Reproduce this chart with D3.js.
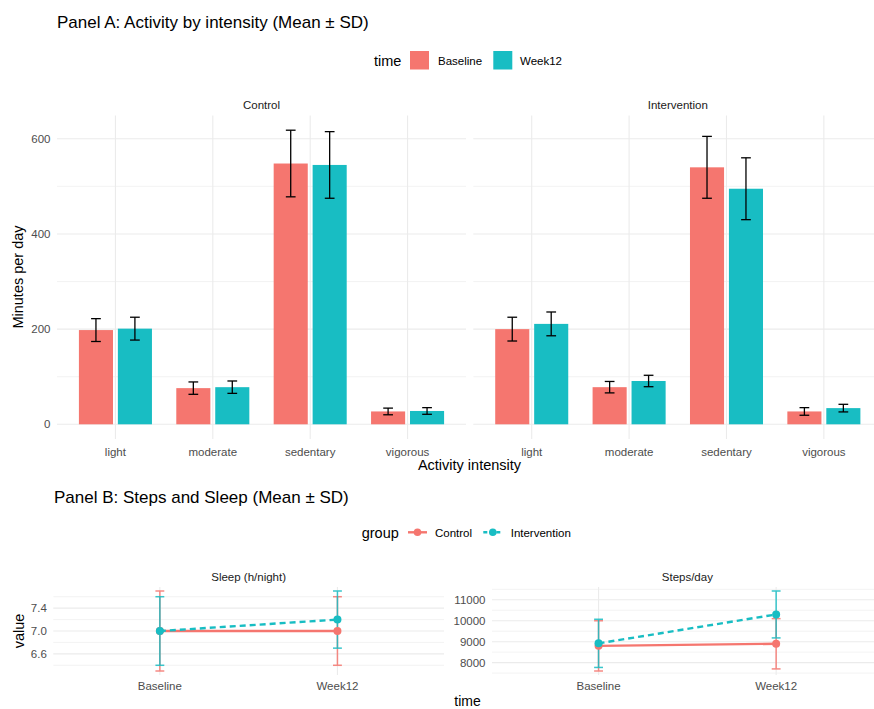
<!DOCTYPE html>
<html><head><meta charset="utf-8">
<script src="https://cdn.jsdelivr.net/npm/d3@7"></script>
<style>body{margin:0;background:#fff}svg{display:block;font-family:"Liberation Sans",Arial,sans-serif}</style>
</head><body><svg id="c" width="874" height="709"></svg>
<script>
// ---------- DATA ----------
const intensities = ["light", "moderate", "sedentary", "vigorous"];
const groups = ["Control", "Intervention"];
const times = ["Baseline", "Week12"];

const controlBaselineMean = [198, 76, 548, 27];
const controlBaselineSD = [24, 13, 70, 7];
const controlWeek12Mean = [201, 78, 545, 28];
const controlWeek12SD = [24, 13, 70, 7];
const interventionBaselineMean = [200, 78, 540, 27];
const interventionBaselineSD = [25, 12, 65, 8];
const interventionWeek12Mean = [211, 91, 495, 34];
const interventionWeek12SD = [25, 12, 65, 8];

const panelATicks = [0, 200, 400, 600];
const panelAMinor = [100, 300, 500];

const sleepControlMean = [7.0, 7.0];
const sleepControlSD = [0.7, 0.6];
const sleepInterventionMean = [7.0, 7.2];
const sleepInterventionSD = [0.6, 0.5];
const sleepTicks = [6.6, 7.0, 7.4];
const sleepMinor = [6.4, 6.8, 7.2, 7.6];

const stepsControlMean = [8800, 8900];
const stepsControlSD = [1200, 1200];
const stepsInterventionMean = [8920, 10300];
const stepsInterventionSD = [1150, 1120];
const stepsTicks = [8000, 9000, 10000, 11000];
const stepsMinor = [7500, 8500, 9500, 10500, 11500];

const RED = "#F5766F", TEAL = "#18BDC3";
const colors = {Baseline: RED, Week12: TEAL, Control: RED, Intervention: TEAL};

// ---------- SETUP ----------
const svg = d3.select("#c");
svg.append("rect").attr("width", 874).attr("height", 709).attr("fill", "#fff");
const GRID = "#EBEBEB", TICKC = "#4D4D4D", STRIPC = "#1A1A1A";

function txt(x, y, s, size, opts = {}) {
  const t = svg.append("text").attr("x", x).attr("y", y).text(s)
    .attr("font-size", size).attr("fill", opts.fill || "#000")
    .attr("text-anchor", opts.anchor || "start");
  if (opts.rotate) t.attr("transform", `rotate(-90,${x},${y})`);
  return t;
}

// ---------- PANEL A ----------
const aTop = 115.5, aBottom = 439;
const aPanels = [{g: "Control", x0: 57, x1: 466}, {g: "Intervention", x0: 473.3, x1: 882.3}];
const barData = {
  Control: {Baseline: [controlBaselineMean, controlBaselineSD], Week12: [controlWeek12Mean, controlWeek12SD]},
  Intervention: {Baseline: [interventionBaselineMean, interventionBaselineSD], Week12: [interventionWeek12Mean, interventionWeek12SD]}
};
let aMax = 0;
groups.forEach(g => times.forEach(t => barData[g][t][0].forEach((m, i) => aMax = Math.max(aMax, m + barData[g][t][1][i]))));
const aPad = aMax * 0.05;
const yA = d3.scaleLinear().domain([-aPad, aMax + aPad]).range([aBottom, aTop]);

aPanels.forEach((p, pi) => {
  const g = svg.append("g");
  const xc = d3.scalePoint().domain(intensities).range([p.x0, p.x1]).padding(0.6);
  const step = xc.step();
  panelAMinor.forEach(v => g.append("line").attr("x1", p.x0).attr("x2", p.x1).attr("y1", yA(v)).attr("y2", yA(v)).attr("stroke", GRID).attr("stroke-width", 0.6));
  panelATicks.forEach(v => g.append("line").attr("x1", p.x0).attr("x2", p.x1).attr("y1", yA(v)).attr("y2", yA(v)).attr("stroke", GRID).attr("stroke-width", 1.1));
  intensities.forEach(c => g.append("line").attr("x1", xc(c)).attr("x2", xc(c)).attr("y1", aTop).attr("y2", aBottom).attr("stroke", GRID).attr("stroke-width", 1.1));
  const dodge = 0.8 * step, bw = 0.35 * step;
  times.forEach((t, ti) => {
    const [means] = barData[p.g][t];
    intensities.forEach((c, i) => {
      const cx = xc(c) + (ti === 0 ? -1 : 1) * dodge / 4;
      g.append("rect").attr("x", cx - bw / 2).attr("width", bw)
        .attr("y", yA(means[i])).attr("height", yA(0) - yA(means[i])).attr("fill", colors[t]);
    });
  });
  times.forEach((t, ti) => {
    const [means, sds] = barData[p.g][t];
    intensities.forEach((c, i) => {
      const cx = xc(c) + (ti === 0 ? -1 : 1) * dodge / 4;
      const hw = 0.05 * step;
      const yT = yA(means[i] + sds[i]), yB = yA(means[i] - sds[i]);
      const e = g.append("g").attr("stroke", "#000").attr("stroke-width", 1.3);
      e.append("line").attr("x1", cx).attr("x2", cx).attr("y1", yT).attr("y2", yB);
      e.append("line").attr("x1", cx - hw).attr("x2", cx + hw).attr("y1", yT).attr("y2", yT);
      e.append("line").attr("x1", cx - hw).attr("x2", cx + hw).attr("y1", yB).attr("y2", yB);
    });
  });
  intensities.forEach(c => txt(xc(c), 456, c, 11.5, {anchor: "middle", fill: TICKC}));
  txt((p.x0 + p.x1) / 2, 108.5, p.g, 11.5, {anchor: "middle", fill: STRIPC});
  if (pi === 0) panelATicks.forEach(v => txt(50.5, yA(v) + 4, String(v), 11.5, {anchor: "end", fill: TICKC}));
});

txt(57, 28, "Panel A: Activity by intensity (Mean ± SD)", 17);
txt(469.5, 470, "Activity intensity", 14.5, {anchor: "middle"});
txt(23, 277, "Minutes per day", 14.5, {anchor: "middle", rotate: true});

txt(374, 65.5, "time", 14.5);
[["Baseline", 410, 438], ["Week12", 493.3, 520]].forEach(([t, kx, tx]) => {
  svg.append("rect").attr("x", kx).attr("y", 51).attr("width", 19).attr("height", 18.5).attr("fill", colors[t]);
  txt(tx, 64.5, t, 11.5);
});

// ---------- PANEL B ----------
const bTop = 587, bBottom = 675;
txt(54, 503, "Panel B: Steps and Sleep (Mean ± SD)", 17);
txt(467.5, 705.5, "time", 14, {anchor: "middle"});
txt(24, 631, "value", 14.5, {anchor: "middle", rotate: true});

txt(361.7, 537.5, "group", 14.5);
[["Control", 408, 435, null], ["Intervention", 483.3, 510.7, "4,2.5"]].forEach(([gname, kx, tx, dash]) => {
  const ln = svg.append("line").attr("x1", kx).attr("x2", kx + 19).attr("y1", 532.3).attr("y2", 532.3)
    .attr("stroke", colors[gname]).attr("stroke-width", 2.4);
  if (dash) ln.attr("stroke-dasharray", dash);
  svg.append("circle").attr("cx", kx + 9.5).attr("cy", 532.3).attr("r", 3.8).attr("fill", colors[gname]);
  txt(tx, 536.5, gname, 11.5);
});

const bPanels = [
  {title: "Sleep (h/night)", x0: 53.3, x1: 444, ticks: sleepTicks, minor: sleepMinor, fmt: d3.format(".1f"),
   data: {Control: [sleepControlMean, sleepControlSD], Intervention: [sleepInterventionMean, sleepInterventionSD]}},
  {title: "Steps/day", x0: 492, x1: 882.7, ticks: stepsTicks, minor: stepsMinor, fmt: d3.format("d"),
   data: {Control: [stepsControlMean, stepsControlSD], Intervention: [stepsInterventionMean, stepsInterventionSD]}}
];
bPanels.forEach(p => {
  const g = svg.append("g");
  let lo = Infinity, hi = -Infinity;
  groups.forEach(gr => p.data[gr][0].forEach((m, i) => { lo = Math.min(lo, m - p.data[gr][1][i]); hi = Math.max(hi, m + p.data[gr][1][i]); }));
  const pad = (hi - lo) * 0.05;
  const y = d3.scaleLinear().domain([lo - pad, hi + pad]).range([bBottom, bTop]);
  const x = d3.scalePoint().domain(times).range([p.x0, p.x1]).padding(0.6);
  p.minor.filter(v => y(v) >= bTop - 0.5 && y(v) <= bBottom + 0.5).forEach(v => g.append("line").attr("x1", p.x0).attr("x2", p.x1).attr("y1", y(v)).attr("y2", y(v)).attr("stroke", GRID).attr("stroke-width", 0.6));
  p.ticks.forEach(v => g.append("line").attr("x1", p.x0).attr("x2", p.x1).attr("y1", y(v)).attr("y2", y(v)).attr("stroke", GRID).attr("stroke-width", 1.1));
  times.forEach(t => g.append("line").attr("x1", x(t)).attr("x2", x(t)).attr("y1", bTop).attr("y2", bBottom).attr("stroke", GRID).attr("stroke-width", 1.1));
  p.ticks.forEach(v => txt(p.x0 - 6.5, y(v) + 4, p.fmt(v), 11.5, {anchor: "end", fill: TICKC}));
  times.forEach(t => txt(x(t), 690, t, 11.5, {anchor: "middle", fill: TICKC}));
  txt((p.x0 + p.x1) / 2, 580.5, p.title, 11.5, {anchor: "middle", fill: STRIPC});
  const hw = 0.025 * x.step();
  groups.forEach(gr => {
    const [means, sds] = p.data[gr];
    times.forEach((t, i) => {
      const cx = x(t), yT = y(means[i] + sds[i]), yB = y(means[i] - sds[i]);
      const e = g.append("g").attr("stroke", colors[gr]).attr("stroke-width", 1.5).attr("opacity", 0.85);
      e.append("line").attr("x1", cx).attr("x2", cx).attr("y1", yT).attr("y2", yB);
      e.append("line").attr("x1", cx - hw).attr("x2", cx + hw).attr("y1", yT).attr("y2", yT);
      e.append("line").attr("x1", cx - hw).attr("x2", cx + hw).attr("y1", yB).attr("y2", yB);
    });
  });
  groups.forEach(gr => {
    const [means] = p.data[gr];
    const line = d3.line().x((d, i) => x(times[i])).y(d => y(d));
    const path = g.append("path").attr("d", line(means)).attr("fill", "none")
      .attr("stroke", colors[gr]).attr("stroke-width", 2.4);
    if (gr === "Intervention") path.attr("stroke-dasharray", "6,4");
    means.forEach((m, i) => g.append("circle").attr("cx", x(times[i])).attr("cy", y(m)).attr("r", 4).attr("fill", colors[gr]));
  });
});
</script></body></html>
